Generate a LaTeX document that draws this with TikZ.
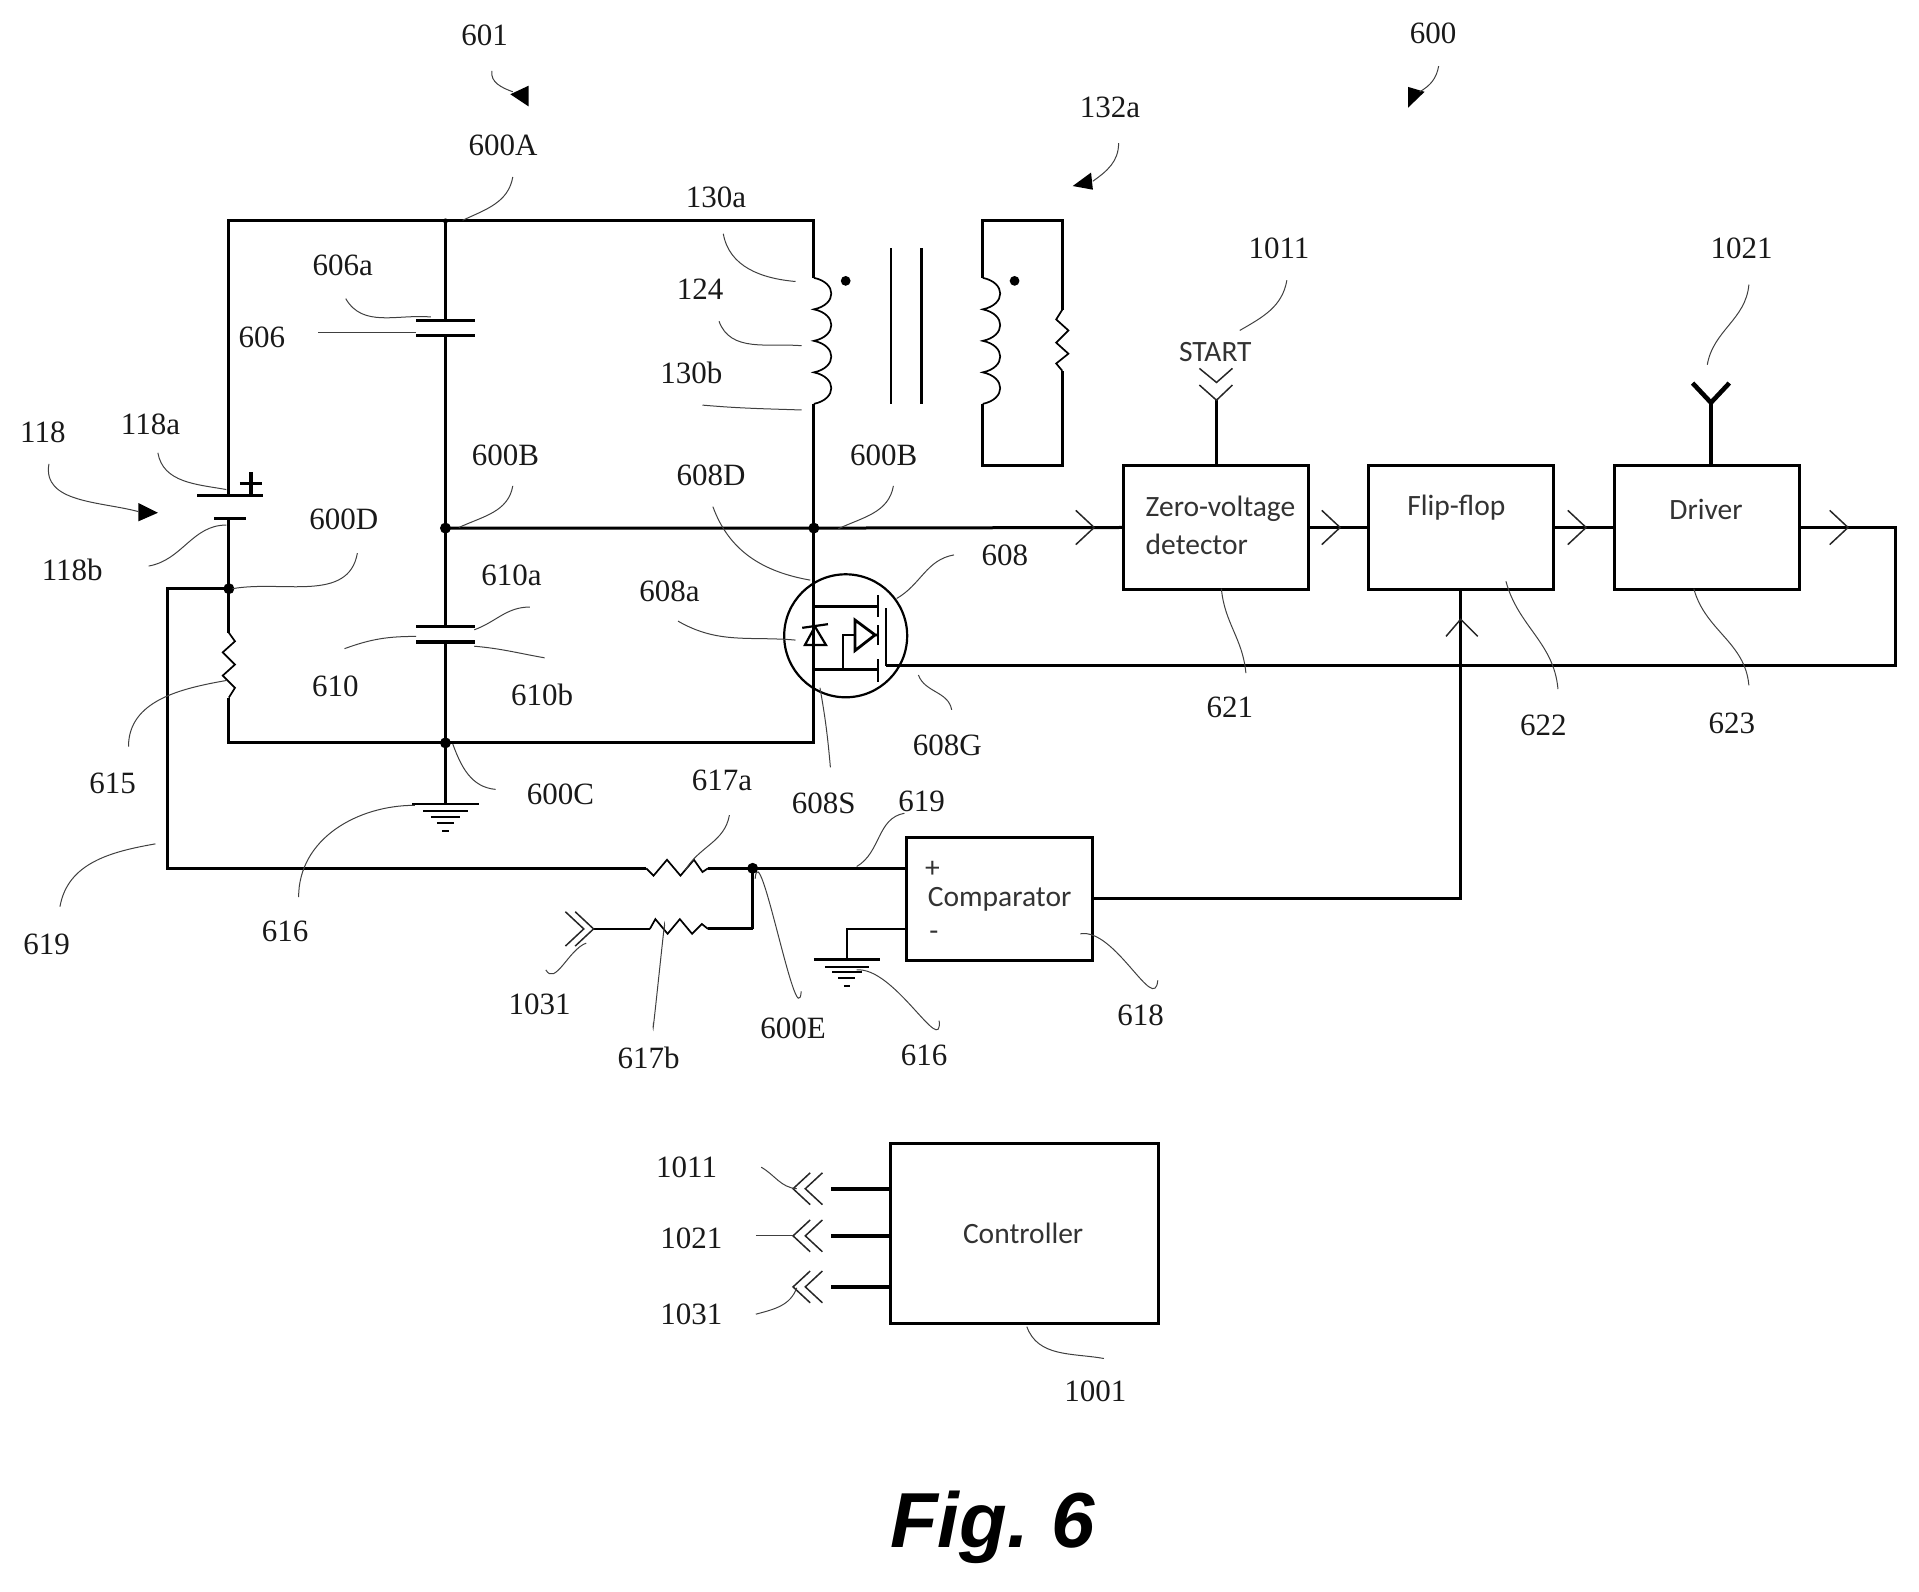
\documentclass[tikz,border=0pt]{standalone}
\usepackage{fontspec}
\setmainfont{Liberation Serif}
\newfontfamily\calib{Carlito}
\newfontfamily\figfont{Liberation Sans}
\usetikzlibrary{calc}
\tikzset{
  wire/.style={line width=3pt,line join=miter,black},
  thin wire/.style={line width=1.7pt,black},
  leader/.style={line width=1pt,black!75},
  chev/.style={line width=1.5pt,black!85},
  lab/.style={font=\fontsize{31}{36}\selectfont,inner sep=0pt,text=black!90},
  boxtext/.style={font=\calib\fontsize{29.5}{32}\selectfont,inner sep=0pt,text=black!80},
  dotj/.style={circle,fill=black,inner sep=0pt,minimum size=11pt},
  sbox/.style={draw,line width=3pt,inner sep=0pt,outer sep=0pt,fill=white},
}
\newcommand\lead[3][]{\coordinate (ls) at (#2);\coordinate (le) at (#3);\draw[leader] (ls) to[#1] (le);}
\newcommand\bump{.. controls +(19,4) and +(19,-4) .. ++(0,25.75)}
\newcommand\chevr[2]{\draw[chev] (#1-15,#2-14) -- (#1,#2) -- (#1-15,#2+14);}
\newcommand\chevl[2]{\draw[chev] (#1+14,#2-13) -- (#1,#2) -- (#1+14,#2+13);}
\newcommand\gnd[2]{%
  \draw[line width=2.4pt] (#1-27,#2) -- (#1+27,#2);
  \draw[line width=2pt] (#1-18,#2+6) -- (#1+18,#2+6);
  \draw[line width=2pt] (#1-12,#2+10.5) -- (#1+12,#2+10.5);
  \draw[line width=2pt] (#1-7,#2+15.5) -- (#1+7,#2+15.5);
  \draw[line width=2pt] (#1-2.5,#2+22) -- (#1+2.5,#2+22);}
\begin{document}
\begin{tikzpicture}[x=1.2239pt,y=-1.2239pt]
\useasboundingbox (0,0) rectangle (1568,1300);
% ---- junctions and corners
\node[dotj,minimum size=5pt] (nA) at (364,180.5) {};
\node[dotj] (nB) at (364,431.5) {};
\node[dotj] (nB2) at (665,431.5) {};
\node[dotj] (nC) at (364,607) {};
\node[dotj] (nD) at (187,481) {};
\node[dotj] (nE) at (615,709.5) {};
\coordinate (TL) at (187,180.5);
\coordinate (TR) at (665,180.5);
\coordinate (BL) at (187,607);
\coordinate (BR) at (665,607);
\coordinate (batP) at (187,404.5);
\coordinate (batN) at (187,424);
\coordinate (c1t) at (364,262);
\coordinate (c1b) at (364,274);
\coordinate (c2t) at (364,512);
\coordinate (c2b) at (364,524.5);
\coordinate (r615t) at (187,517);
\coordinate (r615b) at (187,570);
\coordinate (Lt) at (665,227);
\coordinate (Lb) at (665,330);
\coordinate (g1) at (364,657);
\coordinate (fbc) at (137,709.5);
\coordinate (r1l) at (528,709.5);
\coordinate (r1r) at (578.5,709.5);
\coordinate (r2l) at (531,759);
\coordinate (r2r) at (578.5,759);
\coordinate (in1031) at (485,759);
\coordinate (nE2) at (615,759);
% ---- boxes
\node[sbox,minimum width=184.8pt,minimum height=124pt] (zvd) at (993.5,431) {};
\node[sbox,minimum width=184.8pt,minimum height=124pt] (ff) at (1193.5,431) {};
\node[sbox,minimum width=184.8pt,minimum height=124pt] (drv) at (1394.5,431) {};
\node[sbox,minimum width=186pt,minimum height=123.6pt] (cmp) at (816.6,734.5) {};
\node[sbox,minimum width=268pt,minimum height=180pt] (ctrl) at (837.1,1008) {};
\node[boxtext,anchor=west] (tz1) at (936,416) {Zero-voltage};
\node[boxtext,anchor=west] (tz2) at (936,445) {detector};
\node[boxtext] (tf) at (1190,415) {Flip-flop};
\node[boxtext] (td) at (1394,416) {Driver};
\node[boxtext,anchor=west] (tc) at (758,735) {Comparator};
\node[boxtext] (tcp) at (762,710) {+};
\node[boxtext] (tcm) at (763,765) {-};
\node[boxtext] (tct) at (836,1008) {Controller};
\node[boxtext] (tst) at (993,288) {START};
% ---- main circuit wires
\draw[wire] (batP) -- (TL) -- (TR) -- (Lt);
\draw[wire] (nA.center) -- (c1t);
\draw[wire] (c1b) -- (nB.center) -- (c2t);
\draw[wire] (c2b) -- (nC.center) -- (g1);
\draw[wire] (nB.center) -- (nB2.center) -- (zvd.west);
\draw[wire] (Lb) -- (nB2.center) -- (BR) -- (BL) -- (r615b);
\draw[wire] (batN) -- (nD.center) -- (r615t);
% battery
\draw[wire] (161,404.5) -- (215,404.5);
\draw[wire] (175,424) -- (201,424);
\draw[line width=3.4pt] (196,395) -- (214,395) (205,386) -- (205,404);
% capacitors
\draw[line width=3.4pt] (340,262) -- (388,262) (340,274) -- (388,274);
\draw[line width=3.4pt] (340,512) -- (388,512) (340,524.5) -- (388,524.5);
% resistor 615
\draw[thin wire] (r615t) -- ++(5,7) -- ++(-10,9) -- ++(10,10) -- ++(-10,9) -- ++(10,10) -- ++(-5,8);
% primary coil
\draw[thin wire] (Lt) \bump \bump \bump \bump;
\fill (691,229.5) circle (4);
\draw[line width=2.4pt] (728,203) -- (728,330) (753,203) -- (753,330);
% secondary
\coordinate (s1) at (803,180.5); \coordinate (s2) at (868,180.5);
\coordinate (s3) at (868,380.5); \coordinate (s4) at (803,380.5);
\coordinate (s5) at (803,227); \coordinate (s6) at (803,330);
\coordinate (s7) at (868,253); \coordinate (s8) at (868,303);
\draw[wire] (s5) -- (s1) -- (s2) -- (s7);
\draw[wire] (s8) -- (s3) -- (s4) -- (s6);
\draw[thin wire] (s5) \bump \bump \bump \bump;
\draw[thin wire] (s7) -- ++(-5,8) -- ++(10,9) -- ++(-10,10) -- ++(10,9) -- ++(-10,8) -- ++(5,6);
\fill (829,229.5) circle (4);
% MOSFET
\node[draw,circle,line width=2.2pt,minimum size=123pt,inner sep=0pt] (Q) at (691,519.5) {};
\draw[line width=2.4pt] (665,495.7) -- (717,495.7) (665,546.9) -- (717,546.9);
\draw[line width=2.4pt] (717.4,486) -- (717.4,504) (717.4,510.7) -- (717.4,527) (717.4,538.7) -- (717.4,557);
\draw[line width=2.8pt] (724,497) -- (724,544.5);
\draw[line width=2.2pt] (689,546) -- (689,518.8) -- (698.6,518.8);
\draw[line width=2.8pt] (698.6,506.6) -- (698.6,531.6) -- (715,518.8) -- cycle (715,518.8) -- (717.4,518.8);
\draw[line width=2.2pt] (657.7,527) -- (674.9,527) -- (665.9,512) -- cycle;
\draw[line width=2.2pt] (655.5,513) -- (676.5,510);
% gate and driver feedback
\coordinate (gate) at (724,543.5);
\coordinate (fbr) at (1549,431);
\coordinate (fbb) at (1549,543.5);
\draw[wire] (drv.east) -- (fbr) -- (fbb) -- (gate);
\draw[wire] (zvd.east) -- (ff.west);
\draw[wire] (ff.east) -- (drv.west);
\chevr{894}{431}
\chevr{1095}{431}
\chevr{1296}{431}
\chevr{1510}{431}
% comparator
\draw[wire] (cmp.east) -| (ff.south);
\draw[chev] (1181.5,520) -- (1193.5,506) -- (1207.5,520);
\draw[wire] (nD.center) -- (nD.center -| fbc) -- (fbc) -- (r1l);
\draw[thin wire] (r1l) -- ++(6,6) -- ++(11,-13) -- ++(11,13) -- ++(11,-13) -- ++(7,10) -- (r1r);
\draw[wire] (r1r) -- (nE.center) -- (nE.center -| cmp.west);
\draw[wire] (nE.center) -- (nE2);
\draw[wire] (nE2) -- (r2r);
\draw[thin wire] (r2r) -- ++(-5,-4) -- ++(-8,8) -- ++(-10,-12) -- ++(-10,12) -- ++(-10,-12) -- ++(-4.5,8);
\draw[line width=2pt] (r2l) -- (in1031);
\chevr{485}{759}
\chevr{477}{759}
\coordinate (g2a) at (692,759); \coordinate (g2) at (692,784);
\draw[line width=2.2pt] (g2a -| cmp.west) -- (g2a) -- (g2);
\gnd{692}{784}
\gnd{364}{657}
% top inputs
\coordinate (st) at (994,327);
\draw[line width=2.6pt] (zvd.north -| st) -- (st);
\draw[chev] (980,314.6) -- (994,327) -- (1007,314.6);
\draw[chev] (980,301) -- (994,312.5) -- (1007,301);
\coordinate (dt) at (1398,329);
\draw[line width=4.6pt] (drv.north -| dt) -- (dt);
\draw[line width=4.6pt] (1383,313) -- (dt) -- (1413,313);
% controller stubs
\foreach \nm/\yy in {a/971.3,b/1009.8,c/1051.5}{
  \coordinate (st\nm) at (679,\yy);
  \draw[line width=3.6pt] (st\nm) -- (st\nm -| ctrl.west);
  \chevl{648}{\yy}
  \chevl{658}{\yy}
}
% arrows of reference groups
\fill (432,70) -- (432,87) -- (417,77) -- cycle;
\fill (1150.5,71) -- (1150.5,88) -- (1164,75) -- cycle;
\fill (876.5,152) -- (891.5,141) -- (893,155) -- cycle;
\fill (129,419) -- (113,411) -- (113,426) -- cycle;
% leaders
\lead[out=-100,in=160]{402,58}{419,75}
\lead[out=-100,in=30]{1175.5,54}{1160,75}
\lead[out=-90,in=35]{914,117}{893,148}
\lead[out=-100,in=165]{40,379}{113,418}
\lead[out=-100,in=25]{419,144.6}{378,180}
\lead[out=-80,in=175]{591,191}{650,230}
\lead[out=-70,in=175]{587.5,262.5}{655,282.5}
\lead[out=-5,in=178]{574,331}{655,335}
\lead[out=-60,in=175]{282.5,244}{352,259}
\lead[out=0,in=180]{260,271.7}{340,271.7}
\lead[out=-80,in=170]{129,370}{185,400}
\lead[out=10,in=180]{121.5,462.5}{185,429}
\lead[out=-100,in=25]{419,397}{375,431}
\lead[out=-100,in=25]{730,397}{685,432}
\lead[out=-100,in=10]{292,452}{190,481}
\lead[out=-70,in=170]{582.5,414}{662,474}
\lead[out=180,in=20]{433,496}{387.5,514.6}
\lead[out=20,in=180]{281.5,530}{340,520}
\lead[out=170,in=-5]{445,537.5}{387.5,528}
\lead[out=-30,in=175]{554,507.5}{650,523}
\lead[out=190,in=30]{779.5,453.4}{732.7,489}
\lead[out=-70,in=100]{750.4,551.5}{777.6,580}
\lead[out=-80,in=95]{670,562}{678.5,627}
\lead[out=90,in=190]{105,610}{185,556}
\lead[out=-70,in=175]{370,608}{405,645}
\lead[out=90,in=180]{244,733}{339,658}
\lead[out=80,in=190]{49,740.8}{127,689.5}
\lead[out=30,in=190]{700,708}{739,664.5}
\lead[out=-100,in=60]{596,666}{560,711}
\lead[out=-95,in=85]{534,835.4}{542.7,759.6}
\lead[out=-60,in=200]{446,792.5}{479,770.6}
\lead[out=-95,in=85]{654.7,810}{617,718}
\lead[out=-85,in=5]{767.4,834}{700,792.5}
\lead[out=-95,in=10]{946,801}{882.7,763}
\lead[out=-30,in=175]{622,953.7}{651,971.3}
\lead[out=0,in=180]{617.6,1009.8}{648,1009.8}
\lead[out=15,in=-110]{617.6,1073.8}{651,1052.3}
\lead[out=-70,in=170]{839,1084}{902,1110}
\lead[out=-100,in=30]{1051.5,229}{1013,270}
\lead[out=-95,in=80]{1429,232.5}{1395,298}
\lead[out=-85,in=95]{998,481}{1018,550}
\lead[out=-75,in=95]{1230.5,475}{1273,563}
\lead[out=-75,in=95]{1384,481}{1429,560}
% labels
\node[lab] (l601) at (396,29) {601};
\node[lab] (l600) at (1171,27) {600};
\node[lab] (l132a) at (907,88) {132a};
\node[lab] (l600A) at (411,119) {600A};
\node[lab] (l130a) at (585,161) {130a};
\node[lab] (l606a) at (280,217) {606a};
\node[lab] (l124) at (572,236) {124};
\node[lab] (l606) at (214,276) {606};
\node[lab] (l130b) at (565,305) {130b};
\node[lab] (l1011) at (1045,203) {1011};
\node[lab] (l1021) at (1423,203) {1021};
\node[lab] (l118) at (35,353) {118};
\node[lab] (l118a) at (123,347) {118a};
\node[lab] (l600B) at (413,372) {600B};
\node[lab] (l600Bb) at (722,372) {600B};
\node[lab] (l608D) at (581,388) {608D};
\node[lab] (l118b) at (59,466) {118b};
\node[lab] (l600D) at (281,424) {600D};
\node[lab] (l610a) at (418,470) {610a};
\node[lab] (l608) at (821,454) {608};
\node[lab] (l608a) at (547,483) {608a};
\node[lab] (l610) at (274,561) {610};
\node[lab] (l610b) at (443,568) {610b};
\node[lab] (l615) at (92,640) {615};
\node[lab] (l621) at (1005,578) {621};
\node[lab] (l622) at (1261,593) {622};
\node[lab] (l623) at (1415,591) {623};
\node[lab] (l608G) at (774,609) {608G};
\node[lab] (l600C) at (458,649) {600C};
\node[lab] (l617a) at (590,638) {617a};
\node[lab] (l608S) at (673,656) {608S};
\node[lab] (l619) at (753,655) {619};
\node[lab] (l619b) at (38,772) {619};
\node[lab] (l616) at (233,761) {616};
\node[lab] (l1031) at (441,821) {1031};
\node[lab] (l600E) at (648,840) {600E};
\node[lab] (l617b) at (530,864) {617b};
\node[lab] (l616b) at (755,862) {616};
\node[lab] (l618) at (932,830) {618};
\node[lab] (l1011b) at (561,954) {1011};
\node[lab] (l1021b) at (565,1012) {1021};
\node[lab] (l1031b) at (565,1074) {1031};
\node[lab] (l1001) at (895,1137) {1001};
\node[inner sep=0pt,font=\figfont\bfseries\itshape\fontsize{78}{90}\selectfont] (fig) at (811,1248) {Fig.\hspace{-6pt} 6};
\end{tikzpicture}
\end{document}
